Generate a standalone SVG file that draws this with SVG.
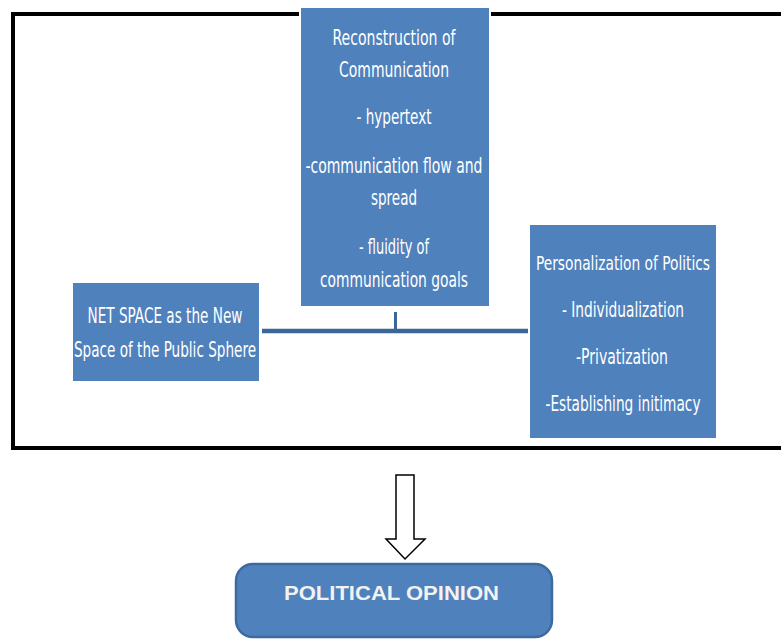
<svg xmlns="http://www.w3.org/2000/svg" width="781" height="639" viewBox="0 0 781 639">
<style>
.frame{fill:none;stroke:#000;stroke-width:4}
.box{fill:#4F81BD;stroke:#ffffff;stroke-width:2}
.t{font-family:"Liberation Sans Narrow","DejaVu Sans Condensed","Liberation Sans",sans-serif;font-size:22px;fill:#ffffff;text-anchor:middle}
.conn{stroke:#3B6696;fill:none}
.big{fill:#ffffff;stroke:#000;stroke-width:1.5;stroke-linejoin:miter}
.op{fill:#4F81BD;stroke:#3E6B9F;stroke-width:2.5}
.opt{font-family:"Liberation Sans",Arial,sans-serif;font-weight:bold;font-size:20px;fill:#F2F2F2;text-anchor:middle}
</style>
<rect width="781" height="639" fill="#ffffff"/>
<rect class="frame" x="13" y="14" width="800" height="434"/>
<g id="connectors">
<line class="conn" x1="262" y1="331" x2="528" y2="331" stroke-width="4.5"/>
<line class="conn" x1="395.5" y1="312" x2="395.5" y2="331" stroke-width="3"/>
</g>
<g id="node-reconstruction">
<rect class="box" x="300" y="7" width="190" height="300"/>
<text class="t" x="394" y="45" textLength="123" lengthAdjust="spacingAndGlyphs">Reconstruction of</text>
<text class="t" x="394" y="77" textLength="110" lengthAdjust="spacingAndGlyphs">Communication</text>
<text class="t" x="394" y="124" textLength="75" lengthAdjust="spacingAndGlyphs">- hypertext</text>
<text class="t" x="394" y="173" textLength="177" lengthAdjust="spacingAndGlyphs">-communication flow and</text>
<text class="t" x="394" y="205" textLength="46" lengthAdjust="spacingAndGlyphs">spread</text>
<text class="t" x="394" y="254" textLength="70" lengthAdjust="spacingAndGlyphs">- fluidity of</text>
<text class="t" x="394" y="287" textLength="148" lengthAdjust="spacingAndGlyphs">communication goals</text>
</g>
<g id="node-netspace">
<rect class="box" x="72" y="282" width="188" height="100"/>
<text class="t" x="165" y="323" textLength="155" lengthAdjust="spacingAndGlyphs">NET SPACE as the New</text>
<text class="t" x="165" y="357" textLength="182" lengthAdjust="spacingAndGlyphs">Space of the Public Sphere</text>
</g>
<g id="node-personalization">
<rect class="box" x="529" y="224" width="188" height="215"/>
<text class="t" x="623" y="270" style="font-size:20px" textLength="174" lengthAdjust="spacingAndGlyphs">Personalization of Politics</text>
<text class="t" x="623" y="317" textLength="122" lengthAdjust="spacingAndGlyphs">- Individualization</text>
<text class="t" x="622" y="364" textLength="92" lengthAdjust="spacingAndGlyphs">-Privatization</text>
<text class="t" x="623" y="411" textLength="155" lengthAdjust="spacingAndGlyphs">-Establishing initimacy</text>
</g>
<g id="arrow">
<path class="big" d="M396,475 L414,475 L414,539 L425,539 L405,559 L386,539 L396,539 Z"/>
</g>
<g id="node-political-opinion">
<rect class="op" x="236" y="564" width="316" height="73" rx="17" ry="17"/>
<text class="opt" x="391.5" y="600" textLength="215" lengthAdjust="spacingAndGlyphs">POLITICAL OPINION</text>
</g>
</svg>
